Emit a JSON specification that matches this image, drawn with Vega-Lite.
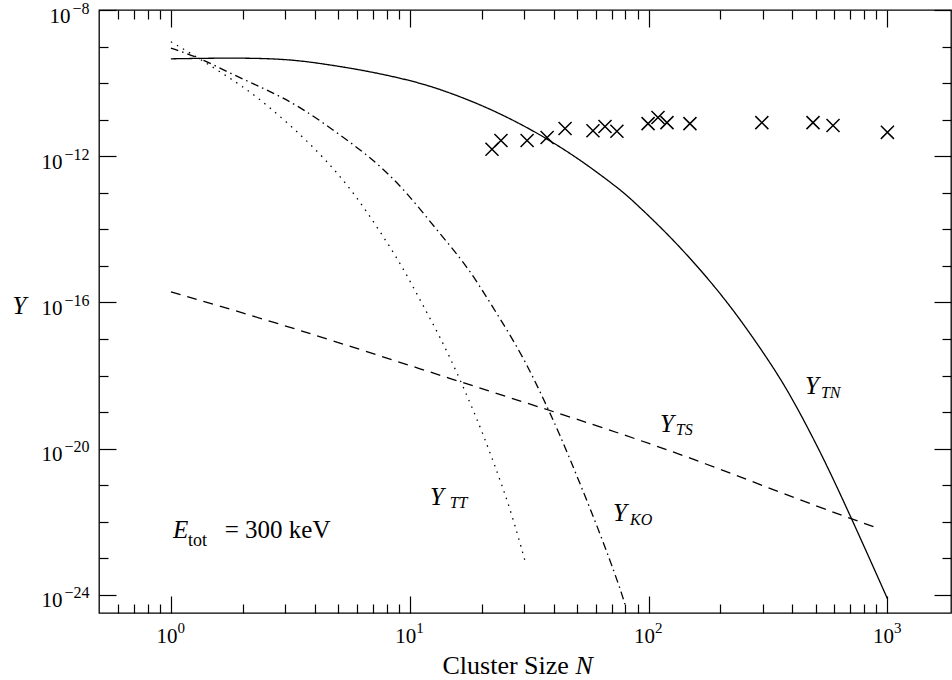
{
  "$schema": "https://vega.github.io/schema/vega-lite/v6.json",
  "width": 852,
  "height": 603,
  "autosize": {"type": "none"},
  "padding": {"left": 99, "top": 10, "right": 1, "bottom": 67},
  "background": "white",
  "config": {
    "view": {"stroke": "black", "strokeWidth": 1.3},
    "font": "Liberation Serif",
    "axis": {"domain": false, "grid": false, "labelFont": "Liberation Serif", "titleFont": "Liberation Serif", "labelColor": "black", "titleColor": "black", "tickColor": "black", "titleFontWeight": "normal", "labelOverlap": false, "labelFlush": false, "labelBound": false}
  },
  "datasets": {
    "curves": [
      {"series": "TN", "N": 1, "Y": 4.62e-10},
      {"series": "TN", "N": 1.82, "Y": 4.92e-10},
      {"series": "TN", "N": 2.94, "Y": 4.62e-10},
      {"series": "TN", "N": 4.09, "Y": 3.6e-10},
      {"series": "TN", "N": 6.62, "Y": 2.18e-10},
      {"series": "TN", "N": 10.7, "Y": 1.09e-10},
      {"series": "TN", "N": 14.7, "Y": 5.5e-11},
      {"series": "TN", "N": 20.3, "Y": 2.4e-11},
      {"series": "TN", "N": 28.1, "Y": 8.7e-12},
      {"series": "TN", "N": 38.7, "Y": 2.7e-12},
      {"series": "TN", "N": 53.1, "Y": 7.1e-13},
      {"series": "TN", "N": 74.5, "Y": 1.35e-13},
      {"series": "TN", "N": 83.6, "Y": 7.2e-14},
      {"series": "TN", "N": 119.4, "Y": 7.9e-15},
      {"series": "TN", "N": 164, "Y": 8.3e-16},
      {"series": "TN", "N": 225, "Y": 6.8e-17},
      {"series": "TN", "N": 313, "Y": 3.1e-18},
      {"series": "TN", "N": 380, "Y": 4.2e-19},
      {"series": "TN", "N": 461, "Y": 4.1e-20},
      {"series": "TN", "N": 558, "Y": 3.5e-21},
      {"series": "TN", "N": 677, "Y": 2.3e-22},
      {"series": "TN", "N": 822, "Y": 1.4e-23},
      {"series": "TN", "N": 1000, "Y": 7.9e-25},
      {"series": "TT", "N": 1, "Y": 1.35e-9},
      {"series": "TT", "N": 1.2, "Y": 6.8e-10},
      {"series": "TT", "N": 1.68, "Y": 1.7e-10},
      {"series": "TT", "N": 2.31, "Y": 4.27e-11},
      {"series": "TT", "N": 3.57, "Y": 3.47e-12},
      {"series": "TT", "N": 4.77, "Y": 4.9e-13},
      {"series": "TT", "N": 6.01, "Y": 7.6e-14},
      {"series": "TT", "N": 7.5, "Y": 8.9e-15},
      {"series": "TT", "N": 9.28, "Y": 1.0e-15},
      {"series": "TT", "N": 11.1, "Y": 1.1e-16},
      {"series": "TT", "N": 13.4, "Y": 1.15e-17},
      {"series": "TT", "N": 16.2, "Y": 8.3e-19},
      {"series": "TT", "N": 19.7, "Y": 4.1e-20},
      {"series": "TT", "N": 22.7, "Y": 3.5e-21},
      {"series": "TT", "N": 26.3, "Y": 2.4e-22},
      {"series": "TT", "N": 30.4, "Y": 8.5e-24},
      {"series": "KO", "N": 1, "Y": 9.1e-10},
      {"series": "KO", "N": 1.32, "Y": 4.9e-10},
      {"series": "KO", "N": 1.82, "Y": 1.7e-10},
      {"series": "KO", "N": 2.52, "Y": 6.6e-11},
      {"series": "KO", "N": 3.47, "Y": 2.29e-11},
      {"series": "KO", "N": 5.1, "Y": 3.9e-12},
      {"series": "KO", "N": 7.29, "Y": 6.8e-13},
      {"series": "KO", "N": 9.73, "Y": 1.02e-13},
      {"series": "KO", "N": 13.1, "Y": 8.9e-15},
      {"series": "KO", "N": 17.4, "Y": 1.0e-15},
      {"series": "KO", "N": 22.1, "Y": 8.1e-17},
      {"series": "KO", "N": 28.9, "Y": 4.8e-18},
      {"series": "KO", "N": 35.0, "Y": 3.9e-19},
      {"series": "KO", "N": 42.5, "Y": 2.45e-20},
      {"series": "KO", "N": 51.4, "Y": 1.2e-21},
      {"series": "KO", "N": 62.6, "Y": 4.9e-23},
      {"series": "KO", "N": 75.9, "Y": 1.58e-24},
      {"series": "KO", "N": 80.4, "Y": 4.5e-25},
      {"series": "TS", "N": 1, "Y": 1.95e-16},
      {"series": "TS", "N": 3.15, "Y": 2.19e-17},
      {"series": "TS", "N": 14.7, "Y": 8.3e-19},
      {"series": "TS", "N": 62.6, "Y": 4.1e-20},
      {"series": "TS", "N": 164, "Y": 4.6e-21},
      {"series": "TS", "N": 430, "Y": 3.9e-22},
      {"series": "TS", "N": 904, "Y": 6.8e-23}
    ],
    "crosses": [
      {"N": 22.1, "Y": 1.55e-12},
      {"N": 24.1, "Y": 2.69e-12},
      {"N": 31.0, "Y": 2.69e-12},
      {"N": 37.6, "Y": 3.24e-12},
      {"N": 44.7, "Y": 5.75e-12},
      {"N": 58.5, "Y": 5.0e-12},
      {"N": 65.7, "Y": 6.5e-12},
      {"N": 73.7, "Y": 4.8e-12},
      {"N": 99.5, "Y": 7.8e-12},
      {"N": 109.5, "Y": 1.15e-11},
      {"N": 119.4, "Y": 8.3e-12},
      {"N": 149, "Y": 7.8e-12},
      {"N": 298, "Y": 8.3e-12},
      {"N": 488, "Y": 8.3e-12},
      {"N": 592, "Y": 6.9e-12},
      {"N": 1000, "Y": 4.5e-12}
    ],
    "bigItalic": [
      {"N": 452, "Y": 3.2e-19, "t": "Y"},
      {"N": 111.6, "Y": 2.95e-20, "t": "Y"},
      {"N": 71, "Y": 1.05e-22, "t": "Y"},
      {"N": 12.15, "Y": 2.9e-22, "t": "Y"},
      {"N": 1.02, "Y": 3.6e-23, "t": "E"}
    ],
    "smallItalic": [
      {"N": 527, "Y": 2.5e-19, "t": "TN"},
      {"N": 130, "Y": 2.35e-20, "t": "TS"},
      {"N": 83.6, "Y": 8.1e-23, "t": "KO"},
      {"N": 14.7, "Y": 2.4e-22, "t": "TT"}
    ],
    "smallRoman": [
      {"N": 1.18, "Y": 2.2e-23, "t": "tot"}
    ],
    "bigRoman": [
      {"N": 1.68, "Y": 3.6e-23, "t": "= 300 keV"}
    ]
  },
  "layer": [
    {
      "data": {"name": "curves"},
      "mark": {"type": "line", "color": "black", "strokeWidth": 1.3, "clip": true, "interpolate": "basis"},
      "encoding": {
        "x": {"field": "N", "type": "quantitative",
          "scale": {"type": "log", "domain": [0.5, 1846], "nice": false},
          "axis": {"orient": "bottom", "values": [1, 10, 100, 1000], "ticks": false, "tickSize": 0, "labelPadding": 29, "labelFontSize": 21, "labelBaseline": "alphabetic", "labelAlign": "right", "labelOffset": 6,
            "labelExpr": "'10'",
            "title": "Cluster Size", "titleFontSize": 26, "titleAlign": "left", "titleBaseline": "alphabetic", "titleY": 60, "titleX": 343}},
        "y": {"field": "Y", "type": "quantitative",
          "scale": {"type": "log", "domain": [3.2e-25, 1e-8], "nice": false},
          "axis": {"orient": "left", "values": [1e-8, 1e-12, 1e-16, 1e-20, 1e-24], "ticks": false, "tickSize": 0, "labelFontSize": 21, "labelAlign": "right", "labelBaseline": "alphabetic", "labelOffset": 12,
            "labelPadding": {"condition": {"test": "round(log(datum.value)/LN10) == -8", "value": 29}, "value": 37},
            "labelExpr": "'10'",
            "title": "Y", "titleFontSize": 25, "titleFontStyle": "italic", "titleAngle": 0, "titleAlign": "left", "titleBaseline": "alphabetic", "titleX": -87, "titleY": 303}},
        "detail": {"field": "series"},
        "strokeDash": {"field": "series", "type": "nominal",
          "scale": {"domain": ["TN", "TS", "TT", "KO"], "range": [[1, 0], [10, 7], [1.5, 5.5], [8, 4, 1.5, 4]]}, "legend": null}
      }
    },
    {
      "data": {"name": "crosses"},
      "mark": {"type": "point", "shape": "M-1,-1L1,1M-1,1L1,-1", "size": 170, "filled": false, "stroke": "black", "strokeWidth": 1.5, "opacity": 1},
      "encoding": {
        "x": {"field": "N", "type": "quantitative",
          "scale": {"type": "log", "domain": [0.5, 1846], "nice": false},
          "axis": {"orient": "bottom", "labels": false, "title": null, "values": [0.6, 0.7, 0.8, 0.9, 1, 2, 3, 4, 5, 6, 7, 8, 9, 10, 20, 30, 40, 50, 60, 70, 80, 90, 100, 200, 300, 400, 500, 600, 700, 800, 900, 1000],
            "tickWidth": 1.2,
            "tickSize": {"condition": {"test": "abs(log(datum.value)/LN10 - round(log(datum.value)/LN10)) < 0.001", "value": -17}, "value": -9}}},
        "y": {"field": "Y", "type": "quantitative",
          "scale": {"type": "log", "domain": [3.2e-25, 1e-8], "nice": false},
          "axis": {"orient": "left", "labels": false, "title": null, "values": [1e-8, 1e-9, 1e-10, 1e-11, 1e-12, 1e-13, 1e-14, 1e-15, 1e-16, 1e-17, 1e-18, 1e-19, 1e-20, 1e-21, 1e-22, 1e-23, 1e-24],
            "tickWidth": 1.2,
            "tickSize": {"condition": {"test": "round(log(datum.value)/LN10) % 4 == 0", "value": -17}, "value": -9}}}
      }
    },
    {
      "data": {"name": "bigItalic"},
      "mark": {"type": "text", "font": "Liberation Serif", "fontStyle": "italic", "fontSize": 25, "align": "left", "baseline": "alphabetic", "color": "black"},
      "encoding": {
        "x": {"field": "N", "type": "quantitative",
          "scale": {"type": "log", "domain": [0.5, 1846], "nice": false},
          "axis": {"orient": "top", "labels": false, "title": null, "values": [0.6, 0.7, 0.8, 0.9, 1, 2, 3, 4, 5, 6, 7, 8, 9, 10, 20, 30, 40, 50, 60, 70, 80, 90, 100, 200, 300, 400, 500, 600, 700, 800, 900, 1000],
            "tickWidth": 1.2,
            "tickSize": {"condition": {"test": "abs(log(datum.value)/LN10 - round(log(datum.value)/LN10)) < 0.001", "value": -17}, "value": -9}}},
        "y": {"field": "Y", "type": "quantitative",
          "scale": {"type": "log", "domain": [3.2e-25, 1e-8], "nice": false},
          "axis": {"orient": "right", "labels": false, "title": null, "values": [1e-8, 1e-9, 1e-10, 1e-11, 1e-12, 1e-13, 1e-14, 1e-15, 1e-16, 1e-17, 1e-18, 1e-19, 1e-20, 1e-21, 1e-22, 1e-23, 1e-24],
            "tickWidth": 1.2,
            "tickSize": {"condition": {"test": "round(log(datum.value)/LN10) % 4 == 0", "value": -17}, "value": -9}}},
        "text": {"field": "t"}
      }
    },
    {
      "data": {"name": "smallItalic"},
      "mark": {"type": "text", "font": "Liberation Serif", "fontStyle": "italic", "fontSize": 16, "align": "left", "baseline": "alphabetic", "color": "black"},
      "encoding": {
        "x": {"field": "N", "type": "quantitative", "scale": {"type": "log", "domain": [0.5, 1846], "nice": false},
          "axis": {"orient": "bottom", "values": [1, 10, 100, 1000], "ticks": false, "tickSize": 0, "labelPadding": 19, "labelFontSize": 15, "labelBaseline": "alphabetic", "labelAlign": "left", "labelOffset": 6,
            "labelExpr": "'' + round(log(datum.value)/LN10)",
            "title": "N", "titleFontSize": 26, "titleFontStyle": "italic", "titleAlign": "left", "titleBaseline": "alphabetic", "titleY": 60, "titleX": 476}},
        "y": {"field": "Y", "type": "quantitative", "scale": {"type": "log", "domain": [3.2e-25, 1e-8], "nice": false},
          "axis": {"orient": "left", "values": [1e-8, 1e-12, 1e-16, 1e-20, 1e-24], "ticks": false, "tickSize": 0, "labelFontSize": 16, "labelAlign": "right", "labelBaseline": "alphabetic", "labelOffset": 3, "labelPadding": 10,
            "labelExpr": "'−' + abs(round(log(datum.value)/LN10))", "title": null}},
        "text": {"field": "t"}
      }
    },
    {
      "data": {"name": "smallRoman"},
      "mark": {"type": "text", "font": "Liberation Serif", "fontSize": 18, "align": "left", "baseline": "alphabetic", "color": "black"},
      "encoding": {
        "x": {"field": "N", "type": "quantitative", "scale": {"type": "log", "domain": [0.5, 1846], "nice": false}, "axis": null},
        "y": {"field": "Y", "type": "quantitative", "scale": {"type": "log", "domain": [3.2e-25, 1e-8], "nice": false}, "axis": null},
        "text": {"field": "t"}
      }
    },
    {
      "data": {"name": "bigRoman"},
      "mark": {"type": "text", "font": "Liberation Serif", "fontSize": 25, "align": "left", "baseline": "alphabetic", "color": "black"},
      "encoding": {
        "x": {"field": "N", "type": "quantitative", "scale": {"type": "log", "domain": [0.5, 1846], "nice": false}, "axis": null},
        "y": {"field": "Y", "type": "quantitative", "scale": {"type": "log", "domain": [3.2e-25, 1e-8], "nice": false}, "axis": null},
        "text": {"field": "t"}
      }
    }
  ],
  "resolve": {"axis": {"x": "independent", "y": "independent"}}
}
